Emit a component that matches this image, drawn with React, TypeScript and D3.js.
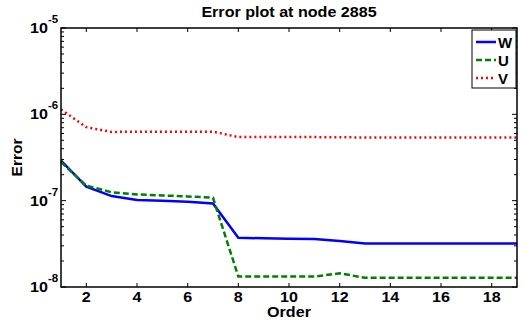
import React from "react";
import * as d3 from "d3";

const orders = [1, 2, 3, 4, 5, 6, 7, 8, 9, 10, 11, 12, 13, 14, 15, 16, 17, 18, 19];
const wValues = [2.9e-7, 1.45e-7, 1.13e-7, 1.02e-7, 1.0e-7, 9.7e-8, 9.3e-8, 3.72e-8, 3.66e-8, 3.62e-8, 3.6e-8, 3.4e-8, 3.2e-8, 3.2e-8, 3.2e-8, 3.2e-8, 3.2e-8, 3.2e-8, 3.2e-8];
const uValues = [2.8e-7, 1.49e-7, 1.25e-7, 1.18e-7, 1.15e-7, 1.12e-7, 1.08e-7, 1.32e-8, 1.32e-8, 1.32e-8, 1.32e-8, 1.44e-8, 1.28e-8, 1.28e-8, 1.28e-8, 1.28e-8, 1.28e-8, 1.28e-8, 1.28e-8];
const vValues = [1.14e-6, 7.1e-7, 6.25e-7, 6.3e-7, 6.3e-7, 6.3e-7, 6.3e-7, 5.45e-7, 5.45e-7, 5.45e-7, 5.45e-7, 5.42e-7, 5.4e-7, 5.4e-7, 5.4e-7, 5.4e-7, 5.4e-7, 5.4e-7, 5.4e-7];
const xTicks = [2, 4, 6, 8, 10, 12, 14, 16, 18];
const yExponents = [-8, -7, -6, -5];
const seriesNames = ["W", "U", "V"];

const W = 523;
const H = 324;
const left = 61;
const right = 517;
const top = 28;
const bottom = 287;
const font = "'Liberation Sans', Arial, sans-serif";
const sx = 1.15;

function T(props: { x: number; y: number; size: number; anchor?: string; children: React.ReactNode }) {
  return (
    <text
      transform={`translate(${props.x},${props.y}) scale(${sx},1)`}
      textAnchor={props.anchor || "start"}
      fontSize={props.size}
      fontWeight="bold"
    >
      {props.children}
    </text>
  );
}

export default function App() {
  const x = d3.scaleLinear().domain([1, 19]).range([left, right]);
  const y = d3.scaleLog().domain([1e-8, 1e-5]).range([bottom, top]);
  const line = (vals: number[]) =>
    d3.line<number>().x((_, i) => x(orders[i])).y((d) => y(d))(vals) || "";

  const minor: number[] = [];
  for (let e = -8; e < -5; e++) {
    for (let m = 2; m <= 9; m++) minor.push(m * Math.pow(10, e));
  }

  const series = [
    { name: seriesNames[0], vals: wValues, color: "#0000ff", dash: undefined },
    { name: seriesNames[1], vals: uValues, color: "#008000", dash: "6,3" },
    { name: seriesNames[2], vals: vValues, color: "#ff0000", dash: "2,3" },
  ];

  const legX = 472;
  const legY = 30;
  return (
    <svg width={W} height={H} style={{ position: "absolute", left: 0, top: 0, background: "#fff" }} fontFamily={font}>
      <rect x={0} y={0} width={W} height={H} fill="#fff" />
      {xTicks.map((t) => (
        <g key={"xt" + t}>
          <line x1={x(t)} x2={x(t)} y1={bottom} y2={bottom - 4} stroke="#000" strokeWidth={1} />
          <line x1={x(t)} x2={x(t)} y1={top} y2={top + 4} stroke="#000" strokeWidth={1} />
          <T x={x(t)} y={302} size={14} anchor="middle">
            {t}
          </T>
        </g>
      ))}
      {minor.map((v, i) => (
        <g key={"mn" + i}>
          <line x1={left} x2={left + 3} y1={y(v)} y2={y(v)} stroke="#000" strokeWidth={1} />
          <line x1={right} x2={right - 3} y1={y(v)} y2={y(v)} stroke="#000" strokeWidth={1} />
        </g>
      ))}
      {yExponents.map((e) => (
        <g key={"ye" + e}>
          <line x1={left} x2={left + 5} y1={y(Math.pow(10, e))} y2={y(Math.pow(10, e))} stroke="#000" />
          <line x1={right} x2={right - 5} y1={y(Math.pow(10, e))} y2={y(Math.pow(10, e))} stroke="#000" />
          <T x={48} y={y(Math.pow(10, e)) + 5} size={14} anchor="end">
            10
          </T>
          <T x={48} y={y(Math.pow(10, e)) - 5} size={10}>
            {e}
          </T>
        </g>
      ))}
      {series.map((s) => (
        <path key={s.name} d={line(s.vals)} fill="none" stroke={s.color} strokeWidth={2.5} strokeDasharray={s.dash} />
      ))}
      <rect x={left} y={top} width={right - left} height={bottom - top} fill="none" stroke="#000" strokeWidth={1.5} />
      <rect x={legX} y={legY} width={44} height={58} fill="#fff" stroke="#000" strokeWidth={1} />
      {series.map((s, i) => (
        <g key={"lg" + s.name}>
          <line x1={legX + 4} x2={legX + 24} y1={legY + 12 + i * 18} y2={legY + 12 + i * 18} stroke={s.color} strokeWidth={2.5} strokeDasharray={s.dash} />
          <text x={legX + 26} y={legY + 17.5 + i * 18} fontSize={15} fontWeight="bold">
            {s.name}
          </text>
        </g>
      ))}
      <T x={(left + right) / 2} y={17} size={14} anchor="middle">
        Error plot at node 2885
      </T>
      <T x={(left + right) / 2} y={317} size={14} anchor="middle">
        Order
      </T>
      <text transform={`translate(22,${(top + bottom) / 2}) rotate(-90)`} textAnchor="middle" fontSize={15.5} fontWeight="bold">
        Error
      </text>
    </svg>
  );
}
